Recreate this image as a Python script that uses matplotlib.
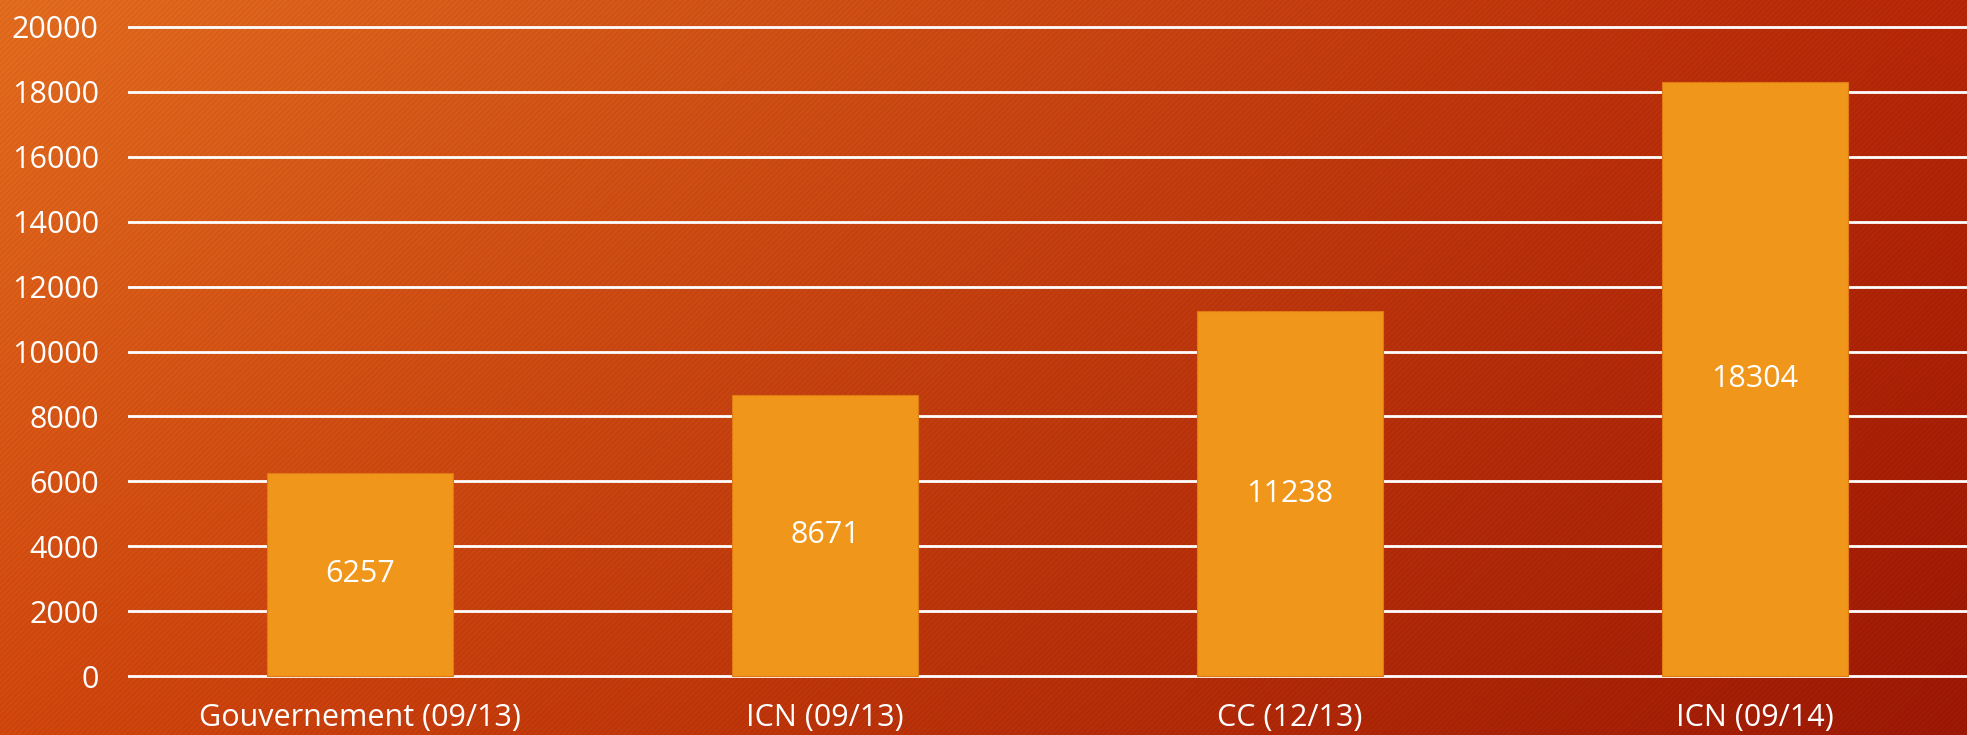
import numpy as np
import matplotlib
matplotlib.use("Agg")
import matplotlib.pyplot as plt
from matplotlib.patches import Rectangle

categories = ["Gouvernement (09/13)", "ICN (09/13)", "CC (12/13)", "ICN (09/14)"]
values = [6257, 8671, 11238, 18304]
y_ticks = [0, 2000, 4000, 6000, 8000, 10000, 12000, 14000, 16000, 18000, 20000]

BAR_COLOR = "#F0961A"
FONT = ["Open Sans", "DejaVu Sans"]
plt.rcParams["font.family"] = FONT
plt.rcParams["hatch.linewidth"] = 1.2
FS = 22

W, H = 1967, 735
fig = plt.figure(figsize=(W / 100, H / 100), dpi=100)

# background: diagonal gradient orange -> dark red, with faint stripes
bg = fig.add_axes([0, 0, 1, 1])
bg.set_axis_off()
tl = np.array([230, 110, 32]) / 255
tr = np.array([185, 40, 8]) / 255
bl = np.array([212, 72, 14]) / 255
br = np.array([160, 25, 5]) / 255
u = np.linspace(0, 1, 400)[None, :, None]
v = np.linspace(0, 1, 150)[:, None, None]
img = (1 - u) * (1 - v) * tl + u * (1 - v) * tr + (1 - u) * v * bl + u * v * br
bg.imshow(img, extent=[0, 1, 0, 1], aspect="auto", origin="upper")
bg.add_patch(Rectangle((0, 0), 1, 1, fill=False, hatch="//////",
                       edgecolor=(0, 0, 0, 0.05), linewidth=0))
bg.set_xlim(0, 1); bg.set_ylim(0, 1)

# plot area
px_per_unit = (676 - 27) / 20000
y_lo, y_hi = -150, 20300
bottom = (H - (676 + 150 * px_per_unit)) / H
top = (H - (27 - 300 * px_per_unit)) / H
left = 128 / W
ax = fig.add_axes([left, bottom, 1 - left, top - bottom])
ax.patch.set_alpha(0)

x = np.arange(len(categories))
ax.bar(x, values, width=0.4, color=BAR_COLOR, edgecolor="#E07A12",
       linewidth=0.8, zorder=3)
for xi, val in zip(x, values):
    ax.text(xi, val / 2, str(val), ha="center", va="center",
            color="white", fontsize=FS, zorder=4)

ax.set_xlim(-0.5, 3.456)
ax.set_ylim(y_lo, y_hi)
ax.set_yticks(y_ticks)
ax.set_xticks(x)
ax.set_xticklabels(categories)
for yv in y_ticks:
    ax.axhline(yv, color="white", linewidth=2, zorder=2)
ax.tick_params(axis="both", length=0, labelcolor="white", labelsize=FS)
ax.tick_params(axis="y", pad=21)
ax.tick_params(axis="x", pad=16)
for s in ax.spines.values():
    s.set_visible(False)

fig.savefig("out.png", dpi=100)
